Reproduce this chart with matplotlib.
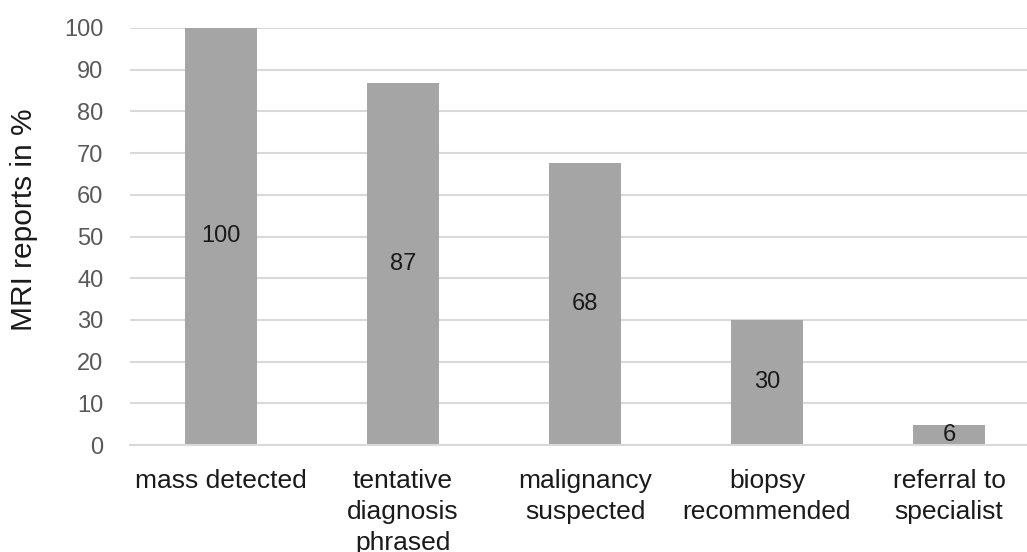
import numpy as np
import matplotlib.pyplot as plt

# 数据
categories = ['mass detected', 'tentative\ndiagnosis\nphrased', 'malignancy\nsuspected',
              'biopsy\nrecommended', 'referral to\nspecialist']
bar_heights = [100, 86.8, 67.6, 30, 4.9]
value_labels = ['100', '87', '68', '30', '6']
y_ticks = list(range(0, 101, 10))

plt.rcParams['font.family'] = ['Liberation Sans', 'DejaVu Sans']

fig = plt.figure(figsize=(10.27, 5.52), dpi=100)
ax = fig.add_axes([130 / 1027, 1 - 445 / 552, 910 / 1027, 417 / 552])

x = np.arange(len(categories))
bars = ax.bar(x, bar_heights, width=0.40, color='#a5a5a5', zorder=2)

# 数值标签放在柱子中间
for rect, label in zip(bars, value_labels):
    ax.text(rect.get_x() + rect.get_width() / 2, rect.get_height() / 2, label,
            ha='center', va='center', fontsize=17, color='#1a1a1a', zorder=3)

ax.set_xlim(-0.5, 4.5)
ax.set_ylim(0, 100)
ax.set_yticks(y_ticks)
ax.set_xticks(x)
ax.set_xticklabels(categories, fontsize=19, color='#1a1a1a', linespacing=1.38)
ax.tick_params(axis='y', labelsize=17, labelcolor='#595959', length=0, pad=19)
ax.tick_params(axis='x', length=0, pad=17)

ax.grid(axis='y', color='#d9d9d9', linewidth=1.5, zorder=0)
for side in ['top', 'right', 'left']:
    ax.spines[side].set_visible(False)
ax.spines['bottom'].set_color('#d9d9d9')
ax.spines['bottom'].set_linewidth(1.5)

ax.set_ylabel('MRI reports in %', fontsize=21.5, color='#1a1a1a')
ax.yaxis.label.set_verticalalignment('center')
ax.yaxis.set_label_coords(-0.1165, 0.54)

fig.savefig('out.png', dpi=100)
